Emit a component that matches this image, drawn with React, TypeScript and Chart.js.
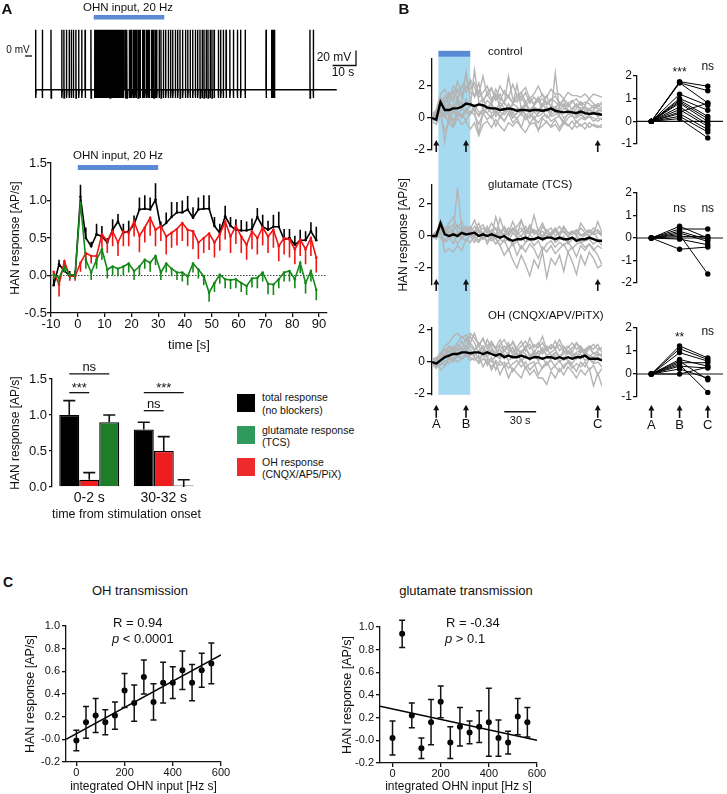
import React, { useEffect, useRef } from "react";
import { Chart, registerables } from "chart.js";

Chart.register(...registerables);

const FONT = "'Liberation Sans', Arial, Helvetica, sans-serif";
const INK = "#111111";
const STIM_BLUE = "#5a8ad6";
const SHADE = "#a6daf1";
Chart.defaults.font.family = FONT;
Chart.defaults.color = INK;

// ===================== DATA =====================

// Panel A - membrane potential trace (s from trace start, mV)
const spikeTimes = [
  0.3, 3.1, 6.8, 11.4, 12.3, 13.4, 14.5, 15.4, 16.3, 17.4, 18.6, 19.9, 21.3, 23.8,
  25.4, 25.7, 25.9, 26.2, 26.5, 26.7, 27.0, 27.4, 27.6, 27.9, 28.2, 28.4, 28.8, 29.0,
  29.3, 29.6, 29.9, 30.1, 30.4, 30.8, 31.0, 31.3, 31.5, 31.9, 32.2, 32.4, 32.7, 33.0,
  33.3, 33.5, 33.9, 34.1, 34.4, 34.7, 35.0, 35.2, 35.6, 35.8, 36.1, 36.4, 36.7, 36.9,
  37.3, 37.6, 38.3, 38.7, 39.1, 40.1, 40.6, 41.1, 41.8, 42.4, 43.0, 43.8, 44.2, 44.7,
  45.8, 46.2, 46.7, 47.5, 48.1, 48.6, 49.6, 50.1, 50.6, 51.2, 51.8, 52.8, 53.6, 54.6,
  55.6, 56.7, 57.7, 58.6, 59.7, 60.7, 61.7, 62.8, 64.0, 65.0, 66.0, 67.1, 68.2, 69.2,
  70.2, 71.1, 71.9, 72.8, 73.6, 74.5, 75.3, 76.2, 78.0, 79.0, 80.1, 81.3, 82.9, 84.4,
  86.1, 87.5, 89.4, 98.3, 100.7, 101.0, 101.3, 101.6, 101.9, 117.0, 118.4,
];
const traceEnd = 128.4;
const vRest = -45;
const vPeak = 35;
const vAHP = -56;
const stimA = [25, 55];
const scaleBarA = { sec: 10, mv: 20 };

// Panel A - time course (s, AP/s)
const tcTimes = [
  -9, -7, -5, -3, -1, 1, 3, 5, 7, 9, 11, 13, 15, 17, 19, 21, 23, 25, 27, 29,
  31, 33, 35, 37, 39, 41, 43, 45, 47, 49, 51, 53, 55, 57, 59, 61, 63, 65, 67, 69,
  71, 73, 75, 77, 79, 81, 83, 85, 87, 89,
];
const tcTotal = [
  -0.13, 0.15, 0.06, 0.0, 0.0, 1.05, 0.5, 0.39, 0.55, 0.52,
  0.44, 0.61, 0.72, 0.57, 0.59, 0.68, 0.88, 0.89, 0.88, 1.01,
  0.64, 0.7, 0.78, 0.84, 0.84, 0.88, 0.77, 0.88, 0.89, 0.89,
  0.66, 0.57, 0.79, 0.66, 0.61, 0.6, 0.6, 0.62, 0.78, 0.65,
  0.61, 0.65, 0.65, 0.48, 0.5, 0.41, 0.47, 0.47, 0.59, 0.47,
];
const tcTotalErr = [
  0.1, 0.06, 0.08, 0.06, 0.06, 0.16, 0.14, 0.06, 0.14, 0.14,
  0.06, 0.14, 0.1, 0.12, 0.14, 0.12, 0.16, 0.18, 0.16, 0.22,
  0.08, 0.14, 0.2, 0.14, 0.16, 0.18, 0.14, 0.16, 0.18, 0.18,
  0.12, 0.12, 0.14, 0.12, 0.14, 0.14, 0.12, 0.14, 0.12, 0.16,
  0.12, 0.16, 0.2, 0.14, 0.12, 0.12, 0.14, 0.12, 0.12, 0.18,
];
const tcOH = [
  0.05, -0.12, 0.19, -0.01, -0.01, 0.17, 0.3, 0.26, 0.26, 0.55,
  0.46, 0.59, 0.44, 0.59, 0.57, 0.72, 0.53, 0.64, 0.77, 0.61,
  0.66, 0.52, 0.57, 0.62, 0.7, 0.61, 0.59, 0.44, 0.5, 0.56,
  0.44, 0.55, 0.72, 0.52, 0.66, 0.52, 0.41, 0.59, 0.5, 0.64,
  0.52, 0.61, 0.39, 0.5, 0.48, 0.35, 0.48, 0.35, 0.5, 0.24,
];
const tcOHErr = [
  0.08, 0.16, 0.1, 0.06, 0.06, 0.12, 0.14, 0.1, 0.12, 0.18,
  0.16, 0.2, 0.18, 0.2, 0.18, 0.2, 0.22, 0.2, 0.24, 0.22,
  0.2, 0.24, 0.2, 0.22, 0.24, 0.22, 0.24, 0.22, 0.2, 0.22,
  0.2, 0.22, 0.24, 0.22, 0.24, 0.22, 0.2, 0.24, 0.22, 0.24,
  0.22, 0.24, 0.2, 0.22, 0.24, 0.2, 0.22, 0.2, 0.24, 0.2,
];
const tcGlu = [
  0.01, -0.03, 0.12, 0.01, 0.01, 0.97, 0.21, 0.04, 0.21, 0.35,
  0.08, 0.12, 0.09, 0.12, 0.16, 0.06, 0.12, 0.21, 0.17, 0.26,
  0.04, 0.16, 0.09, 0.04, 0.04, -0.01, 0.16, 0.08, -0.01, -0.23,
  -0.1, 0.01, -0.05, -0.06, -0.05, -0.1, -0.14, -0.04, -0.03, 0.04,
  -0.11, -0.12, -0.05, 0.04, 0.06, -0.05, 0.17, -0.1, 0.06, -0.19,
];
const tcGluErr = [
  0.06, 0.08, 0.08, 0.06, 0.06, 0.1, 0.12, 0.1, 0.12, 0.14,
  0.12, 0.12, 0.1, 0.12, 0.12, 0.12, 0.12, 0.12, 0.12, 0.12,
  0.1, 0.12, 0.1, 0.1, 0.12, 0.12, 0.12, 0.12, 0.12, 0.12,
  0.12, 0.12, 0.12, 0.12, 0.12, 0.12, 0.12, 0.12, 0.14, 0.12,
  0.14, 0.14, 0.12, 0.12, 0.14, 0.12, 0.14, 0.14, 0.14, 0.14,
];
const stimTC = [0, 30];

// Panel A - bar chart
const barGroups = ["0-2 s", "30-32 s"];
const barTotal = [1.0, 0.8];
const barTotalErr = [0.2, 0.1];
const barOH = [0.1, 0.5];
const barOHErr = [0.1, 0.2];
const barGlu = [0.9, 0.0];
const barGluErr = [0.1, 0.1];
const barSig = [
  { group: 0, from: 0, to: 2, level: 1.57, label: "ns" },
  { group: 0, from: 0, to: 1, level: 1.31, label: "***" },
  { group: 1, from: 0, to: 2, level: 1.31, label: "***" },
  { group: 1, from: 0, to: 1, level: 1.06, label: "ns" },
];

// Panel B - traces (s, AP/s)
const bTimes = [
  -6, -2, 2, 6, 10, 14, 18, 22, 26, 30, 34, 38, 42, 46, 50, 54, 58, 62, 66, 70,
  74, 78, 82, 86, 90, 94, 98, 102, 106, 110, 114, 118, 122, 126, 130, 134, 138, 142, 146, 150, 154,
];
const stimB = [0, 30];
const arrowTimes = [-2, 26, 150];
const arrowLabels = ["A", "B", "C"];
const scaleBarB = { start: 62, sec: 30 };

const ctrlMean = [0.0, -0.1, 1.0, 0.5, 0.5, 0.6, 0.6, 0.7, 0.9, 0.85, 0.75, 0.85, 0.8, 0.65, 0.6, 0.6, 0.5, 0.55, 0.6, 0.55, 0.45, 0.5, 0.5, 0.45, 0.5, 0.5, 0.45, 0.5, 0.6, 0.45, 0.4, 0.35, 0.4, 0.35, 0.3, 0.4, 0.3, 0.25, 0.3, 0.25, 0.2];
const ctrlCell1 = [0.2, 0.5, 1.5, 1.8, 1.2, 2.0, 1.6, 1.9, 2.5, 1.8, 2.2, 1.5, 2.6, 1.4, 1.8, 1.2, 2.0, 1.5, 1.3, 2.1, 1.4, 1.6, 1.9, 1.2, 1.5, 2.0, 1.4, 1.3, 1.8, 1.5, 1.5, 1.2, 1.6, 1.4, 1.4, 1.3, 1.5, 1.2, 1.5, 1.4, 1.3];
const ctrlCell2 = [-0.3, 0.2, 0.8, 0.6, 1.0, 0.4, 0.9, 0.5, 1.2, 0.7, 3.0, 1.0, 0.6, 1.1, 0.8, 0.4, 1.0, 0.6, 0.5, 0.9, 0.7, 0.3, 0.8, 0.5, 0.6, 0.3, 0.9, 0.5, 0.4, 0.7, 0.2, 0.6, 0.5, 0.3, 0.4, 0.6, 0.2, 0.5, 0.3, 0.4, 0.2];
const ctrlCell3 = [0.1, -0.2, 0.5, -1.5, 0.2, -0.5, 0.3, 0.0, 0.4, 0.2, 0.6, 0.1, 0.5, 0.3, 0.0, 0.4, 0.2, -0.2, 0.3, 0.1, 0.0, 0.3, -0.1, 0.2, 0.0, -0.3, 0.1, 0.2, -0.2, 0.0, 0.1, -0.4, 0.0, 0.2, -0.3, 0.0, -0.1, 0.1, -0.2, 0.0, -0.1];
const ctrlCell4 = [0.0, 0.3, 1.2, 0.8, 1.5, 1.0, 1.8, 1.3, 2.0, 1.6, 1.4, 2.2, 1.0, 1.6, 1.9, 1.1, 1.5, 0.9, 2.6, 1.2, 1.0, 1.4, 0.8, 1.1, 0.9, 1.3, 0.7, 1.0, 0.8, 0.6, 1.0, 0.7, 0.9, 0.5, 0.8, 0.6, 0.7, 0.5, 0.8, 0.6, 0.5];
const ctrlCell5 = [-0.2, 0.0, 0.4, 0.2, -0.3, 0.5, 0.1, 0.3, -0.2, 0.4, 0.2, -0.4, 0.3, -0.1, 0.2, -0.5, 0.1, -0.2, 0.3, -0.3, 0.0, -0.6, 0.2, -0.4, 0.1, -0.8, 0.0, -0.3, -0.5, -0.1, -0.6, -0.2, -0.4, -0.7, -0.2, -0.5, -0.3, -0.6, -0.4, -0.5, -0.6];
const ctrlCell6 = [0.3, 0.1, 0.9, 0.4, 0.7, 0.3, 1.1, 0.6, 0.8, 1.0, 0.5, 0.9, 1.2, 0.6, 0.9, 1.4, 0.7, 1.0, 0.5, 0.8, 2.1, 0.6, 0.9, 0.4, 0.7, 0.5, 0.8, 1.4, 0.6, 0.4, 0.7, 0.9, 0.5, 0.3, 0.6, 1.0, 0.4, 0.6, 0.3, 0.5, 0.4];
const ctrlCell7 = [-0.1, 0.2, 0.3, 0.0, 0.5, -0.2, 0.4, 0.1, 0.6, 0.3, 0.8, 0.4, 0.2, 0.7, 0.3, 0.5, 0.0, 0.4, 0.6, 0.2, 0.3, 0.7, 0.1, 0.4, -0.1, 0.3, 0.5, 0.0, 0.2, 0.4, 0.1, -0.2, 0.3, 0.1, 0.0, 0.2, -0.1, 0.1, 0.0, -0.2, 0.0];
const ctrlCell8 = [0.0, 0.1, 0.6, 0.2, 0.9, 0.5, 1.3, 0.8, 2.9, 1.1, 0.4, -1.0, 0.3, 0.6, 1.0, 0.2, 0.7, 0.4, 0.9, 0.3, 0.6, 0.2, 1.0, 0.5, 0.8, 1.2, 0.4, 0.7, 0.3, 2.8, 0.5, 0.8, 0.3, 0.6, 0.9, 0.4, 0.7, 0.2, 0.5, 0.8, 0.6];
const ctrlCell9 = [0.1, 0.4, 1.3, 1.0, 1.6, 1.2, 2.3, 1.5, 1.9, 2.2, 1.3, 1.7, 1.1, 1.5, 1.0, 1.8, 1.2, 1.0, 1.4, 0.9, 1.2, 1.6, 1.0, 1.3, 0.8, 1.1, 1.5, 0.9, 1.2, 1.0, 0.8, 1.2, 0.9, 1.1, 0.7, 1.0, 0.8, 1.2, 0.9, 0.7, 1.0];
const ctrlCell10 = [-0.2, -0.4, 0.2, -0.8, -0.3, -0.6, 0.0, -0.4, -0.2, -0.7, -0.3, -1.1, -0.4, -0.2, -0.6, -0.1, -0.5, -0.8, -0.3, -0.5, -0.2, -0.6, -0.9, -0.4, -0.3, -0.7, -0.5, -0.2, -0.6, -0.4, -0.8, -0.3, -0.5, -0.2, -0.6, -0.4, -0.7, -0.3, -0.5, -0.6, -0.4];
const ctrlCell11 = [0.0, 0.3, 0.7, 1.4, 0.9, 1.7, 1.2, 2.0, 1.6, 2.4, 1.9, 1.3, 1.6, 2.0, 1.2, 1.5, 1.1, 1.7, 1.3, 1.0, 1.4, 1.1, 1.6, 0.9, 1.3, 1.0, 1.2, 0.8, 1.1, 1.4, 0.9, 1.1, 0.7, 1.0, 1.2, 0.8, 1.0, 0.9, 0.6, 0.9, 0.8];
const ctrlCell12 = [0.2, -0.1, 0.4, 0.1, 0.3, 0.8, 0.2, 0.6, 0.4, 0.9, 0.5, 0.2, 0.6, 0.3, 0.7, 0.1, 0.4, 0.2, 0.5, 0.0, 0.3, 0.6, 0.2, 0.0, 0.4, 0.1, 0.3, 0.6, 0.1, 0.2, 0.5, 0.0, 0.2, 0.4, 0.1, 0.3, 0.0, 0.2, 0.4, 0.1, 0.2];

const gluMean = [0.0, 0.0, 0.8, 0.1, 0.0, 0.1, 0.0, 0.2, 0.1, 0.15, 0.2, 0.0, 0.1, 0.0, 0.1, 0.0, -0.1, 0.0, -0.2, -0.3, -0.2, -0.2, -0.1, -0.2, -0.2, -0.1, -0.2, -0.1, -0.1, -0.2, -0.1, -0.2, -0.2, -0.1, -0.3, -0.2, -0.2, -0.1, -0.2, -0.3, -0.3];
const gluCell1 = [0.0, 0.2, 0.5, 0.3, 0.6, 0.2, 3.0, 0.4, 0.5, 0.3, 0.2, 0.4, 0.1, 0.6, 0.0, 1.2, 0.3, 0.1, 0.5, 0.2, 0.0, 1.0, 0.3, 0.1, 0.4, 0.0, 0.6, 0.2, 0.1, 0.3, 0.0, 0.5, 0.2, 0.1, 0.3, 0.0, 0.2, 0.4, 0.1, 0.9, 0.2];
const gluCell2 = [0.1, -0.2, 0.3, -1.0, -0.8, -1.0, -0.6, -0.9, -0.2, -0.4, 0.0, -0.3, 0.2, -0.5, 0.0, -0.2, -0.6, -1.2, -0.8, -1.5, -2.0, -1.2, -1.8, -2.5, -1.5, -2.0, -1.0, -2.6, -1.4, -1.8, -1.2, -2.2, -1.0, -1.6, -2.4, -1.2, -1.8, -1.0, -1.4, -2.0, -1.8];
const gluCell3 = [0.0, 0.1, 1.0, 0.4, 0.8, 1.2, 0.5, 0.9, 0.3, 0.6, 0.2, 0.5, 0.7, 0.2, 0.4, 0.1, 0.3, 0.5, 0.0, 0.4, 0.6, 1.0, 0.2, 0.5, 0.1, 0.3, 0.8, 0.2, 0.0, 0.4, 0.1, 0.6, 0.2, 0.3, 0.0, 0.8, 0.4, 0.2, 0.5, 0.3, 0.1];
const gluCell4 = [-0.1, 0.0, 0.2, -0.3, 0.0, -0.5, 0.1, -0.2, 0.2, 0.0, -0.4, 0.1, -0.2, 0.0, -0.3, -0.1, -0.6, -0.2, -0.9, -0.4, -1.2, -0.6, -1.0, -0.5, -0.8, -1.4, -0.7, -1.0, -0.6, -1.1, -0.8, -0.5, -1.0, -0.7, -1.3, -0.6, -0.9, -0.5, -0.8, -1.2, -1.8];
const gluCell5 = [0.2, 0.0, 0.6, 0.1, 0.3, 0.0, 0.2, -0.1, 0.4, 0.1, 0.0, 0.3, -0.2, 0.1, 0.2, -0.1, 0.3, 0.0, -0.3, 0.2, -0.1, 0.0, -0.4, 0.1, -0.2, 0.0, -0.3, -0.1, 0.1, -0.4, -0.2, 0.0, -0.5, -0.2, -0.1, -0.4, -0.3, -0.2, -0.5, -0.3, -0.6];
const gluCell6 = [0.0, 0.3, 0.4, 0.2, 0.5, 0.7, 0.3, 0.1, 0.6, 0.4, 1.0, 0.3, 0.5, 0.2, 0.8, 0.4, 0.0, 0.6, 0.2, 0.9, 0.3, 0.5, 0.0, 0.7, 0.2, 0.4, -0.2, 0.3, 0.5, 0.0, 0.2, 0.6, -0.1, 0.3, 0.1, -0.3, 0.2, 0.0, 0.3, -0.2, -0.4];
const gluCell7 = [0.1, 0.0, 0.3, 0.5, 0.2, 0.4, 0.7, 0.3, 0.5, 0.2, 0.6, 0.3, 0.1, 0.4, 0.2, 0.5, 0.3, 0.0, 0.2, 0.4, 0.1, 0.3, 0.6, 0.2, 0.4, 0.1, 0.3, 0.0, 0.2, 0.5, 0.1, 0.3, 0.0, 0.2, 0.4, 0.1, 0.0, 0.3, 0.1, 0.2, 0.0];
const gluCell8 = [-0.2, 0.1, -0.1, -0.4, -0.2, 0.0, -0.5, -0.1, -0.3, 0.1, -0.2, -0.4, 0.0, -0.3, -0.1, -0.5, -0.2, -0.4, -0.1, -0.6, -0.3, -0.8, -0.4, -0.2, -0.6, -0.3, -0.9, -0.5, -0.3, -0.7, -0.4, -0.6, -0.3, -0.8, -0.5, -0.4, -0.7, -0.5, -0.9, -0.6, -0.8];
const gluCell9 = [0.0, 0.2, 0.1, 0.4, 0.0, 0.3, -0.1, 0.6, 0.2, 0.0, 0.3, 0.8, 0.1, 0.4, 0.2, 0.0, 1.1, 0.3, 0.1, 0.5, 0.2, 0.0, 0.4, 0.2, 1.3, 0.3, 0.0, 0.4, 0.1, 0.3, 0.6, 0.2, 0.0, 0.3, 0.1, 0.5, 0.2, 0.0, 0.2, 0.4, 0.1];

const ohMean = [0.0, -0.1, 0.1, 0.3, 0.4, 0.5, 0.5, 0.6, 0.6, 0.55, 0.6, 0.6, 0.5, 0.6, 0.5, 0.4, 0.5, 0.3, 0.4, 0.3, 0.3, 0.4, 0.3, 0.2, 0.3, 0.3, 0.2, 0.3, 0.3, 0.2, 0.3, 0.2, 0.3, 0.2, 0.3, 0.3, 0.4, 0.2, 0.2, 0.2, 0.1];
const ohCell1 = [0.0, -0.3, 0.5, 1.0, 1.2, 1.6, 1.8, 1.5, 1.7, 1.2, 1.8, 1.0, 1.5, 0.8, 1.2, 0.9, 1.4, 0.7, 1.0, 0.6, 0.9, 1.3, 0.7, 1.5, 0.9, 1.2, 0.6, 1.0, 0.8, 1.3, 0.7, 1.0, 0.5, 0.9, 1.2, 0.6, 0.8, 1.0, 0.5, 0.7, 0.9];
const ohCell2 = [0.2, 0.0, 0.3, 0.8, 0.6, 1.0, 0.7, 1.3, 0.9, 1.6, 1.2, 0.5, 0.9, 0.3, 0.7, 0.4, 0.8, 0.2, 0.6, 0.9, 0.3, 0.7, 0.5, 0.1, 0.6, 0.3, 0.8, 0.4, 0.2, 0.6, 0.4, 0.1, 0.7, 0.3, 0.5, 0.2, 0.6, 0.4, 0.3, 0.5, 0.4];
const ohCell3 = [-0.2, 0.1, -0.5, -0.3, 0.2, 0.0, 0.4, 0.2, 0.5, 0.3, 0.1, 0.4, -0.3, 0.2, -0.5, 0.0, -0.8, -0.2, -1.0, -0.4, -0.7, -1.0, -0.3, -0.8, -0.5, -1.0, -1.0, -1.4, -0.6, -1.0, -0.4, -0.8, -0.3, -0.6, -1.0, -0.5, -0.8, -0.4, -1.5, -0.7, -1.5];
const ohCell4 = [0.1, 0.3, 0.2, 0.5, 0.4, 0.8, 0.5, 0.9, 0.6, 1.2, 0.8, 1.0, 0.6, 1.4, 0.9, 0.5, 1.0, 0.7, 1.2, 0.4, 0.8, 0.6, 1.0, 0.3, 0.7, 0.5, 0.9, 0.4, 0.6, 0.8, 0.3, 0.7, 0.5, 0.6, 0.2, 0.8, 0.4, 0.9, 0.5, 0.6, 0.3];
const ohCell5 = [-0.1, -0.4, 0.0, -0.2, 0.3, 0.1, 0.5, 0.2, 0.4, 0.6, 0.3, 0.0, 0.5, -0.2, 0.3, -0.5, 0.1, -0.3, 0.0, -0.6, -0.2, 0.2, -0.4, -0.1, 0.0, -0.8, -0.3, 0.0, -0.5, -0.2, 0.1, -0.4, 0.0, -0.2, -0.6, 0.0, -0.3, 0.2, -0.1, 0.0, -0.3];
const ohCell6 = [0.0, 0.2, 0.6, 0.4, 0.9, 0.7, 1.1, 0.8, 1.5, 1.0, 0.7, 1.2, 0.9, 0.6, 1.1, 0.8, 0.4, 1.0, 0.7, 1.3, 0.8, 0.5, 0.9, 1.1, 0.6, 1.0, 1.6, 0.7, 1.1, 0.9, 1.4, 0.8, 1.0, 0.6, 1.2, 0.9, 0.7, 1.0, 0.8, 1.1, 0.6];
const ohCell7 = [0.3, 0.0, 0.1, 0.3, 0.2, 0.6, 0.3, 0.5, 0.8, 0.4, 0.6, 0.2, 0.5, 0.3, 0.0, 0.4, 0.2, 0.5, 0.1, 0.3, 0.6, 0.0, 0.4, 0.2, 0.5, 0.1, 0.3, -0.2, 0.2, 0.4, 0.0, 0.3, 0.1, -0.1, 0.3, 0.5, 0.1, 0.2, 0.0, 0.3, 0.1];
const ohCell8 = [0.0, 0.1, 0.4, 0.7, 1.0, 0.8, 1.2, 1.6, 1.3, 1.8, 1.5, 1.1, 1.4, 1.0, 1.3, 0.8, 1.1, 1.4, 0.9, 1.2, 0.7, 1.0, 1.3, 0.8, 1.1, 0.9, 1.2, 0.7, 1.0, 0.8, 1.1, 0.6, 0.9, 1.2, 0.8, 1.0, 0.6, 0.9, 1.1, 0.8, 0.9];
const ohCell9 = [-0.3, 0.0, -0.2, 0.1, -0.1, 0.3, 0.0, 0.2, 0.5, 0.1, 0.3, -0.1, 0.2, 0.0, -0.3, 0.1, -0.2, 0.0, -0.4, -0.1, 0.1, -0.3, 0.0, -0.5, -0.2, 0.0, -0.4, -0.1, 0.1, -0.3, -0.6, -0.2, 0.0, -0.4, -0.1, -0.3, 0.0, -0.5, -0.2, -0.8, -0.4];
const ohCell10 = [0.1, 0.2, 0.5, 0.3, 0.7, 0.5, 0.9, 0.6, 1.0, 0.8, 0.4, 0.7, 1.0, 0.5, 0.8, 0.6, 0.3, 0.7, 0.5, 0.9, 0.4, 0.6, 0.8, 0.5, 0.3, 0.7, 0.5, 0.9, 0.4, 0.6, 0.3, 0.5, 0.7, 0.4, 0.6, 0.8, 0.5, 0.3, 0.6, 0.4, 0.5];

// Panel B - paired (A = baseline, B = end of stim, C = late)
const pairBaseline = 0;
const ctrlB = [1.75, 1.7, 1.7, 1.2, 1.0, 0.93, 0.86, 0.8, 0.64, 0.52, 0.41, 0.34, 0.22, 0.12];
const ctrlC = [1.55, 1.35, 0.81, 0.7, 0.49, 0.22, 0.12, 0.0, -0.13, -0.22, 0.8, -0.36, -0.47, -0.73];
const gluB = [0.52, 0.4, 0.3, 0.22, 0.15, 0.07, -0.05, -0.5];
const gluC = [0.0, 0.4, -0.07, -0.15, -1.6, 0.07, -0.3, -0.4];
const ohB = [1.22, 1.1, 0.93, 0.63, 0.56, 0.49, 0.41, 0.34, 0.22, 0.0];
const ohC = [0.7, 0.63, 0.56, 0.34, -0.25, 0.49, -0.8, 0.26, -0.18, 0.3];
const ctrlSig = [{ x: 1, level: 1.98, label: "***" }, { x: 2, level: 2.25, label: "ns" }];
const gluSig = [{ x: 1, level: 1.16, label: "ns" }, { x: 2, level: 1.16, label: "ns" }];
const ohSig = [{ x: 1, level: 1.43, label: "**" }, { x: 2, level: 1.7, label: "ns" }];

// Panel C - scatter (integrated OHN input [Hz s], AP/s)
const cInput = [0, 40, 80, 120, 160, 200, 240, 280, 320, 360, 400, 440, 480, 520, 560];
const ohResp = [-0.01, 0.15, 0.21, 0.15, 0.21, 0.43, 0.32, 0.55, 0.33, 0.5, 0.5, 0.61, 0.5, 0.61, 0.67];
const ohRespErr = [0.09, 0.14, 0.15, 0.11, 0.12, 0.15, 0.16, 0.15, 0.16, 0.18, 0.14, 0.17, 0.16, 0.15, 0.18];
const ohFitX = [-43, 600];
const ohFitY = [0.0, 0.745];
const gluResp = [0.02, 0.94, 0.22, -0.07, 0.16, 0.34, -0.02, 0.12, 0.07, 0.12, 0.16, 0.02, -0.02, 0.21, 0.16];
const gluRespErr = [0.15, 0.12, 0.11, 0.09, 0.2, 0.14, 0.14, 0.17, 0.1, 0.14, 0.3, 0.16, 0.1, 0.16, 0.13];
const gluFitX = [-52, 600];
const gluFitY = [0.3, 0.0];

// ===================== HELPERS =====================

type Rect = { x: number; y: number; w: number; h: number };
type Area = { l: number; t: number; r: number; b: number };
type M = { ml: number; mt: number; mr: number; mb: number };

const xy = (xs: number[], ys: number[]) => xs.map((x, i) => ({ x, y: ys[i] }));

function base(pad: { left: number; top: number; right: number; bottom: number }) {
  return {
    responsive: false,
    animation: false,
    events: [],
    layout: { padding: pad },
    plugins: { legend: { display: false }, tooltip: { enabled: false }, title: { display: false } },
  };
}

function linAxis(kind: "x" | "y", o: any) {
  return {
    type: "linear",
    position: kind === "y" ? "left" : "bottom",
    min: o.min,
    max: o.max,
    afterFit: (s: any) => {
      if (kind === "y") s.width = o.size;
      else s.height = o.size;
    },
    border: { display: true, color: INK, width: 1.3 },
    grid: { display: true, drawOnChartArea: false, drawTicks: true, tickLength: o.tl, color: INK, lineWidth: 1.3 },
    ticks: {
      stepSize: o.step,
      includeBounds: false,
      autoSkip: false,
      maxRotation: 0,
      font: { size: o.fs },
      color: INK,
      padding: o.pad,
      callback: (v: any) => Number(v).toFixed(o.dec),
    },
    title: o.title
      ? {
          display: true,
          text: o.title,
          color: INK,
          font: { size: o.titleFs },
          padding: kind === "y" ? { top: o.titlePad, bottom: 0 } : { top: 0, bottom: o.titlePad },
        }
      : { display: false },
  };
}

const errorBarPlugin = {
  id: "errbars",
  afterDatasetDraw(chart: any, args: any) {
    const ds = chart.data.datasets[args.index];
    if (!ds.err) return;
    const meta = args.meta;
    const ys = chart.scales[meta.yAxisID];
    const ctx = chart.ctx;
    ctx.save();
    ctx.strokeStyle = ds.errColor || ds.borderColor;
    ctx.lineWidth = ds.errWidth || 1.5;
    meta.data.forEach((el: any, i: number) => {
      const raw = ds.data[i];
      const v = typeof raw === "number" ? raw : raw.y;
      const e = ds.err[i];
      const dir = ds.errDir;
      const yA = ys.getPixelForValue(dir < 0 ? v : v + e);
      const yB = ys.getPixelForValue(dir > 0 ? v : v - e);
      ctx.beginPath();
      ctx.moveTo(el.x, yA);
      ctx.lineTo(el.x, yB);
      const c = ds.errCap || 0;
      if (c) {
        if (dir >= 0) {
          ctx.moveTo(el.x - c / 2, yA);
          ctx.lineTo(el.x + c / 2, yA);
        }
        if (dir <= 0) {
          ctx.moveTo(el.x - c / 2, yB);
          ctx.lineTo(el.x + c / 2, yB);
        }
      }
      ctx.stroke();
    });
    ctx.restore();
  },
};

function drawArrow(ctx: any, x: number, yTip: number, yTail: number) {
  ctx.save();
  ctx.strokeStyle = INK;
  ctx.fillStyle = INK;
  ctx.lineWidth = 1.6;
  ctx.beginPath();
  ctx.moveTo(x, yTail);
  ctx.lineTo(x, yTip + 4);
  ctx.stroke();
  ctx.beginPath();
  ctx.moveTo(x, yTip);
  ctx.lineTo(x - 3, yTip + 5.5);
  ctx.lineTo(x + 3, yTip + 5.5);
  ctx.closePath();
  ctx.fill();
  ctx.restore();
}

function ChartBox({ cv, area, build }: { cv: Rect; area: Area; build: (m: M) => any }) {
  const ref = useRef<HTMLCanvasElement>(null);
  useEffect(() => {
    const m = { ml: area.l - cv.x, mt: area.t - cv.y, mr: cv.x + cv.w - area.r, mb: cv.y + cv.h - area.b };
    const chart = new Chart(ref.current as HTMLCanvasElement, build(m));
    return () => chart.destroy();
  }, []);
  return (
    <canvas
      ref={ref}
      width={cv.w}
      height={cv.h}
      style={{ position: "absolute", left: cv.x, top: cv.y, width: cv.w, height: cv.h }}
    />
  );
}

function Txt(props: { x: number; y: number; s?: number; a?: "l" | "c" | "r"; b?: boolean; children: any }) {
  const { x, y, s = 12, a = "c", b = false, children } = props;
  const tx = a === "c" ? "-50%" : a === "r" ? "-100%" : "0";
  return (
    <div
      style={{
        position: "absolute",
        left: x,
        top: y,
        transform: `translate(${tx}, -50%)`,
        fontSize: s,
        lineHeight: 1,
        fontWeight: b ? 700 : 400,
        whiteSpace: "nowrap",
        color: INK,
        fontFamily: FONT,
      }}
    >
      {children}
    </div>
  );
}

// ===================== CHART CONFIGS =====================

function traceAConfig(m: M) {
  const pts: { x: number; y: number }[] = [{ x: 0, y: vRest }];
  spikeTimes.forEach((t) => {
    pts.push({ x: t - 0.03, y: vRest }, { x: t, y: vPeak }, { x: t + 0.05, y: vAHP }, { x: t + 0.22, y: vRest });
  });
  pts.push({ x: traceEnd, y: vRest });
  return {
    type: "line",
    data: { datasets: [{ data: pts, borderColor: "#000", borderWidth: 1.4, pointRadius: 0, tension: 0 }] },
    options: {
      ...base({ left: m.ml, top: m.mt, right: m.mr, bottom: m.mb }),
      scales: {
        x: { type: "linear", display: false, min: 0, max: 129 },
        y: { type: "linear", display: false, min: -65, max: 45 },
      },
    },
    plugins: [
      {
        id: "traceA",
        afterDraw(chart: any) {
          const { ctx, scales } = chart;
          const x = scales.x;
          const y = scales.y;
          ctx.save();
          ctx.fillStyle = STIM_BLUE;
          const xa = x.getPixelForValue(stimA[0]);
          const xb = x.getPixelForValue(stimA[1]);
          ctx.fillRect(xa, 15, xb - xa, 4.5);
          ctx.strokeStyle = INK;
          ctx.lineWidth = 1.3;
          const y0 = y.getPixelForValue(0);
          ctx.beginPath();
          ctx.moveTo(25, y0);
          ctx.lineTo(32, y0);
          ctx.stroke();
          const hLen = x.getPixelForValue(scaleBarA.sec) - x.getPixelForValue(0);
          const vLen = y.getPixelForValue(0) - y.getPixelForValue(scaleBarA.mv);
          const cx = 356;
          const cy = 65.5;
          ctx.beginPath();
          ctx.moveTo(cx - hLen, cy);
          ctx.lineTo(cx, cy);
          ctx.lineTo(cx, cy - vLen);
          ctx.stroke();
          ctx.restore();
        },
      },
    ],
  };
}

function timeCourseConfig(m: M) {
  const series = [
    { vals: tcGlu, err: tcGluErr, dir: -1, color: "#15881a" },
    { vals: tcOH, err: tcOHErr, dir: -1, color: "#f01414" },
    { vals: tcTotal, err: tcTotalErr, dir: 1, color: "#000000" },
  ];
  return {
    type: "line",
    data: {
      datasets: series.map((s) => ({
        data: xy(tcTimes, s.vals),
        borderColor: s.color,
        backgroundColor: s.color,
        borderWidth: 1.6,
        pointRadius: 1.3,
        pointBorderWidth: 0,
        tension: 0,
        err: s.err,
        errDir: s.dir,
        errWidth: 1.6,
      })),
    },
    options: {
      ...base({ left: 0, top: m.mt, right: m.mr, bottom: 0 }),
      scales: {
        x: linAxis("x", { min: -10, max: 93, step: 10, size: m.mb, fs: 13, dec: 0, tl: 4, pad: 0, title: "time [s]", titleFs: 13, titlePad: 0 }),
        y: linAxis("y", { min: -0.5, max: 1.5, step: 0.5, size: m.ml, fs: 13, dec: 1, tl: 4, pad: 0, title: "HAN response [AP/s]", titleFs: 12, titlePad: 8 }),
      },
    },
    plugins: [
      errorBarPlugin,
      {
        id: "tc",
        beforeDatasetsDraw(chart: any) {
          const { ctx, chartArea: a, scales } = chart;
          const y0 = scales.y.getPixelForValue(0);
          ctx.save();
          ctx.strokeStyle = "#444";
          ctx.lineWidth = 1;
          ctx.setLineDash([1.5, 1.5]);
          ctx.beginPath();
          ctx.moveTo(a.left, y0);
          ctx.lineTo(a.right, y0);
          ctx.stroke();
          ctx.restore();
        },
        afterDraw(chart: any) {
          const { ctx, chartArea: a, scales } = chart;
          const xa = scales.x.getPixelForValue(stimTC[0]);
          const xb = scales.x.getPixelForValue(stimTC[1]);
          ctx.save();
          ctx.fillStyle = STIM_BLUE;
          ctx.fillRect(xa, a.top + 2, xb - xa, 5);
          ctx.restore();
        },
      },
    ],
  };
}

function barConfig(m: M) {
  const mk = (vals: number[], errs: number[], color: string, extra: any = {}) => ({
    data: vals,
    backgroundColor: color,
    borderColor: "#000",
    borderWidth: 1.3,
    err: errs,
    errDir: 1,
    errCap: 12,
    errColor: INK,
    errWidth: 1.6,
    ...extra,
  });
  return {
    type: "bar",
    data: {
      labels: barGroups,
      datasets: [
        mk(barTotal, barTotalErr, "#000000"),
        mk(barOH, barOHErr, "#ee1e1e"),
        mk(barGlu, barGluErr, "#1d7d28", { minBarLength: 1.5 }),
      ],
    },
    options: {
      ...base({ left: 0, top: m.mt, right: m.mr, bottom: 0 }),
      datasets: { bar: { categoryPercentage: 0.805, barPercentage: 1 } },
      scales: {
        x: {
          type: "category",
          afterFit: (s: any) => {
            s.height = m.mb;
          },
          grid: { display: false, drawTicks: false, tickLength: 0 },
          border: { display: false },
          ticks: { font: { size: 14 }, color: INK, padding: 3, autoSkip: false, maxRotation: 0 },
          title: { display: true, text: "time from stimulation onset", color: INK, font: { size: 13 }, padding: { top: 0, bottom: 0 } },
        },
        y: linAxis("y", { min: 0, max: 1.5, step: 0.5, size: m.ml, fs: 13, dec: 1, tl: 3, pad: 2, title: "HAN response [AP/s]", titleFs: 12, titlePad: 8 }),
      },
    },
    plugins: [
      errorBarPlugin,
      {
        id: "barsig",
        afterDraw(chart: any) {
          const { ctx, scales } = chart;
          ctx.save();
          ctx.strokeStyle = INK;
          ctx.fillStyle = INK;
          ctx.lineWidth = 1.3;
          ctx.font = `13px ${FONT}`;
          ctx.textAlign = "center";
          ctx.textBaseline = "alphabetic";
          barSig.forEach((s) => {
            const xa = chart.getDatasetMeta(s.from).data[s.group].x;
            const xb = chart.getDatasetMeta(s.to).data[s.group].x;
            const py = scales.y.getPixelForValue(s.level);
            ctx.beginPath();
            ctx.moveTo(xa, py);
            ctx.lineTo(xb, py);
            ctx.stroke();
            ctx.fillText(s.label, (xa + xb) / 2, py - (s.label === "ns" ? 3 : 1));
          });
          ctx.restore();
        },
      },
    ],
  };
}

function bTraceConfig(m: M, mean: number[], cells: number[][], ymin: number, ymax: number, cfg: any) {
  return {
    type: "line",
    data: {
      datasets: [
        { data: xy(bTimes, mean), borderColor: "#000", borderWidth: 2.4, pointRadius: 0, tension: 0 },
        ...cells.map((c) => ({ data: xy(bTimes, c), borderColor: "#b4b4b4", borderWidth: 1.4, pointRadius: 0, tension: 0 })),
      ],
    },
    options: {
      ...base({ left: 0, top: m.mt, right: m.mr, bottom: m.mb }),
      scales: {
        x: { type: "linear", display: false, min: -6, max: 154 },
        y: linAxis("y", { min: ymin, max: ymax, step: 2, size: m.ml, fs: 12, dec: 0, tl: 5, pad: 2, title: cfg.title, titleFs: 12, titlePad: 6.8 }),
      },
    },
    plugins: [
      {
        id: "btrace",
        beforeDatasetsDraw(chart: any) {
          const { ctx, chartArea: a, scales } = chart;
          const x0 = scales.x.getPixelForValue(stimB[0]);
          const x1 = scales.x.getPixelForValue(stimB[1]);
          const top = cfg.topBar ? a.top - 2 : 0;
          const bottom = cfg.shadeToArea ? a.bottom : chart.height;
          ctx.save();
          ctx.fillStyle = SHADE;
          ctx.fillRect(x0, top, x1 - x0, bottom - top);
          if (cfg.topBar) {
            ctx.fillStyle = STIM_BLUE;
            ctx.fillRect(x0, a.top - 8, x1 - x0, 6);
          }
          ctx.restore();
        },
        afterDraw(chart: any) {
          const { ctx, chartArea: a, scales } = chart;
          arrowTimes.forEach((t, i) => {
            const px = scales.x.getPixelForValue(t);
            drawArrow(ctx, px, a.bottom + cfg.tip, a.bottom + cfg.tail);
            if (cfg.letters) {
              ctx.save();
              ctx.fillStyle = INK;
              ctx.font = `13px ${FONT}`;
              ctx.textAlign = "center";
              ctx.textBaseline = "middle";
              ctx.fillText(arrowLabels[i], px, a.bottom + 30);
              ctx.restore();
            }
          });
          if (cfg.scaleBar) {
            const xa = scales.x.getPixelForValue(scaleBarB.start);
            const xb = scales.x.getPixelForValue(scaleBarB.start + scaleBarB.sec);
            ctx.save();
            ctx.strokeStyle = INK;
            ctx.lineWidth = 1.4;
            ctx.beginPath();
            ctx.moveTo(xa, a.bottom + 17);
            ctx.lineTo(xb, a.bottom + 17);
            ctx.stroke();
            ctx.fillStyle = INK;
            ctx.font = `11px ${FONT}`;
            ctx.textAlign = "center";
            ctx.textBaseline = "middle";
            ctx.fillText(`${scaleBarB.sec} s`, (xa + xb) / 2, a.bottom + 26);
            ctx.restore();
          }
        },
      },
    ],
  };
}

function pairConfig(m: M, B: number[], C: number[], ymin: number, ymax: number, sigs: any[], arrows: boolean) {
  return {
    type: "line",
    data: {
      datasets: B.map((b, i) => ({
        data: [
          { x: 0, y: pairBaseline },
          { x: 1, y: b },
          { x: 2, y: C[i] },
        ],
        borderColor: "#000",
        backgroundColor: "#000",
        borderWidth: 1,
        pointRadius: 2.7,
        pointBorderWidth: 0,
        tension: 0,
      })),
    },
    options: {
      ...base({ left: 0, top: m.mt, right: m.mr, bottom: m.mb }),
      scales: {
        x: { type: "linear", display: false, min: -0.51, max: 2.54 },
        y: linAxis("y", { min: ymin, max: ymax, step: 1, size: m.ml, fs: 12, dec: 0, tl: 4, pad: 1 }),
      },
    },
    plugins: [
      {
        id: "pair",
        beforeDatasetsDraw(chart: any) {
          const { ctx, chartArea: a, scales } = chart;
          const y0 = scales.y.getPixelForValue(0);
          ctx.save();
          ctx.strokeStyle = INK;
          ctx.lineWidth = 1.2;
          ctx.beginPath();
          ctx.moveTo(a.left, y0);
          ctx.lineTo(a.right, y0);
          ctx.stroke();
          ctx.restore();
        },
        afterDraw(chart: any) {
          const { ctx, chartArea: a, scales } = chart;
          ctx.save();
          ctx.fillStyle = INK;
          ctx.font = `12px ${FONT}`;
          ctx.textAlign = "center";
          ctx.textBaseline = "alphabetic";
          sigs.forEach((s) => {
            ctx.fillText(s.label, scales.x.getPixelForValue(s.x), scales.y.getPixelForValue(s.level));
          });
          ctx.restore();
          if (arrows) {
            arrowLabels.forEach((lab, i) => {
              const px = scales.x.getPixelForValue(i);
              drawArrow(ctx, px, a.bottom + 8, a.bottom + 21);
              ctx.save();
              ctx.fillStyle = INK;
              ctx.font = `13px ${FONT}`;
              ctx.textAlign = "center";
              ctx.textBaseline = "middle";
              ctx.fillText(lab, px, a.bottom + 28);
              ctx.restore();
            });
          }
        },
      },
    ],
  };
}

function scatterConfig(m: M, ys: number[], errs: number[], fitX: number[], fitY: number[], xmin: number, titlePad: number) {
  return {
    type: "line",
    data: {
      datasets: [
        {
          data: xy(cInput, ys),
          showLine: false,
          borderColor: "#000",
          backgroundColor: "#000",
          pointRadius: 3,
          pointBorderWidth: 0,
          err: errs,
          errDir: 0,
          errCap: 6,
          errColor: INK,
          errWidth: 1.5,
        },
        { data: xy(fitX, fitY), borderColor: "#000", borderWidth: 1.5, pointRadius: 0, tension: 0 },
      ],
    },
    options: {
      ...base({ left: 0, top: m.mt, right: m.mr, bottom: 0 }),
      scales: {
        x: linAxis("x", { min: xmin, max: 600, step: 200, size: m.mb, fs: 11, dec: 0, tl: 4, pad: 0, title: "integrated OHN input [Hz s]", titleFs: 12, titlePad: 0 }),
        y: linAxis("y", { min: -0.2, max: 1.0, step: 0.2, size: m.ml, fs: 11, dec: 1, tl: 4, pad: 2, title: "HAN response [AP/s]", titleFs: 12.5, titlePad }),
      },
    },
    plugins: [errorBarPlugin],
  };
}

// ===================== APP =====================

export default function App() {
  const box = (x: number, y: number, c: string) => (
    <div style={{ position: "absolute", left: x, top: y, width: 18, height: 18, background: c }} />
  );
  return (
    <div
      style={{
        position: "absolute",
        left: 0,
        top: 0,
        width: 727,
        height: 794,
        background: "#fff",
        overflow: "hidden",
        fontFamily: FONT,
        color: INK,
      }}
    >
      {/* Panel A */}
      <ChartBox cv={{ x: 0, y: 0, w: 370, h: 120 }} area={{ l: 35, t: 22.25, r: 338.15, b: 104.75 }} build={traceAConfig} />
      <ChartBox cv={{ x: 0, y: 140, w: 340, h: 213 }} area={{ l: 51, t: 163, r: 327, b: 313 }} build={timeCourseConfig} />
      <ChartBox cv={{ x: 0, y: 355, w: 215, h: 167 }} area={{ l: 52, t: 379, r: 201, b: 487 }} build={barConfig} />

      <Txt x={7} y={8} s={15} b>A</Txt>
      <Txt x={128} y={8} s={11.5}>OHN input, 20 Hz</Txt>
      <Txt x={18} y={50} s={10}>0 mV</Txt>
      <Txt x={334} y={57} s={12}>20 mV</Txt>
      <Txt x={343} y={72} s={12}>10 s</Txt>
      <Txt x={118} y={156} s={11.5}>OHN input, 20 Hz</Txt>

      {box(237, 394, "#000000")}
      <Txt x={262} y={397} s={10.5} a="l">total response</Txt>
      <Txt x={262} y={410} s={10.5} a="l">(no blockers)</Txt>
      {box(237, 426, "#2f9a5c")}
      <Txt x={262} y={430} s={10.5} a="l">glutamate response</Txt>
      <Txt x={262} y={442} s={10.5} a="l">(TCS)</Txt>
      {box(237, 458, "#ee2a2a")}
      <Txt x={262} y={462} s={10.5} a="l">OH response</Txt>
      <Txt x={262} y={474} s={10.5} a="l">(CNQX/AP5/PiX)</Txt>

      {/* Panel B */}
      <Txt x={404} y={8} s={15} b>B</Txt>
      <ChartBox
        cv={{ x: 390, y: 42, w: 222, h: 130 }}
        area={{ l: 432, t: 58.8, r: 602, b: 150 }}
        build={(m) =>
          bTraceConfig(
            m,
            ctrlMean,
            [ctrlCell1, ctrlCell2, ctrlCell3, ctrlCell4, ctrlCell5, ctrlCell6, ctrlCell7, ctrlCell8, ctrlCell9, ctrlCell10, ctrlCell11, ctrlCell12],
            -2,
            3.7,
            { topBar: true, shadeToArea: false, tip: -10, tail: 2, letters: false, scaleBar: false }
          )
        }
      />
      <ChartBox
        cv={{ x: 390, y: 172, w: 222, h: 130 }}
        area={{ l: 432, t: 184.8, r: 602, b: 284.96 }}
        build={(m) =>
          bTraceConfig(
            m,
            gluMean,
            [gluCell1, gluCell2, gluCell3, gluCell4, gluCell5, gluCell6, gluCell7, gluCell8, gluCell9],
            -3.06,
            3.2,
            { topBar: false, shadeToArea: false, tip: -6, tail: 6, letters: false, scaleBar: false, title: "HAN response [AP/s]" }
          )
        }
      />
      <ChartBox
        cv={{ x: 390, y: 302, w: 222, h: 138 }}
        area={{ l: 432, t: 327.6, r: 602, b: 394.8 }}
        build={(m) =>
          bTraceConfig(
            m,
            ohMean,
            [ohCell1, ohCell2, ohCell3, ohCell4, ohCell5, ohCell6, ohCell7, ohCell8, ohCell9, ohCell10],
            -2.05,
            2.15,
            { topBar: false, shadeToArea: true, tip: 10, tail: 23, letters: true, scaleBar: true }
          )
        }
      />
      <ChartBox
        cv={{ x: 600, y: 50, w: 127, h: 110 }}
        area={{ l: 637, t: 76, r: 727, b: 144 }}
        build={(m) => pairConfig(m, ctrlB, ctrlC, -1, 2, ctrlSig, false)}
      />
      <ChartBox
        cv={{ x: 600, y: 172, w: 127, h: 128 }}
        area={{ l: 637, t: 193, r: 727, b: 283 }}
        build={(m) => pairConfig(m, gluB, gluC, -2, 2, gluSig, false)}
      />
      <ChartBox
        cv={{ x: 600, y: 302, w: 127, h: 138 }}
        area={{ l: 637, t: 328, r: 727, b: 397 }}
        build={(m) => pairConfig(m, ohB, ohC, -1, 2, ohSig, true)}
      />
      <Txt x={488} y={52} s={11.5} a="l">control</Txt>
      <Txt x={488} y={185} s={11.5} a="l">glutamate (TCS)</Txt>
      <Txt x={488} y={316} s={11.5} a="l">OH (CNQX/APV/PiTX)</Txt>

      {/* Panel C */}
      <Txt x={8} y={582} s={14} b>C</Txt>
      <Txt x={140} y={590} s={13}>OH transmission</Txt>
      <Txt x={466} y={590} s={13}>glutamate transmission</Txt>
      <ChartBox
        cv={{ x: 0, y: 600, w: 240, h: 194 }}
        area={{ l: 66, t: 626, r: 221, b: 762 }}
        build={(m) => scatterConfig(m, ohResp, ohRespErr, ohFitX, ohFitY, -43, 23.5)}
      />
      <ChartBox
        cv={{ x: 330, y: 600, w: 230, h: 194 }}
        area={{ l: 380, t: 627, r: 537, b: 763 }}
        build={(m) => scatterConfig(m, gluResp, gluRespErr, gluFitX, gluFitY, -52, 10.5)}
      />
      <Txt x={113} y={622} s={13} a="l">R = 0.94</Txt>
      <Txt x={112} y={638} s={13} a="l">
        <i>p</i> &lt; 0.0001
      </Txt>
      <Txt x={446} y={622} s={13} a="l">R = -0.34</Txt>
      <Txt x={445} y={638} s={13} a="l">
        <i>p</i> &gt; 0.1
      </Txt>
    </div>
  );
}
